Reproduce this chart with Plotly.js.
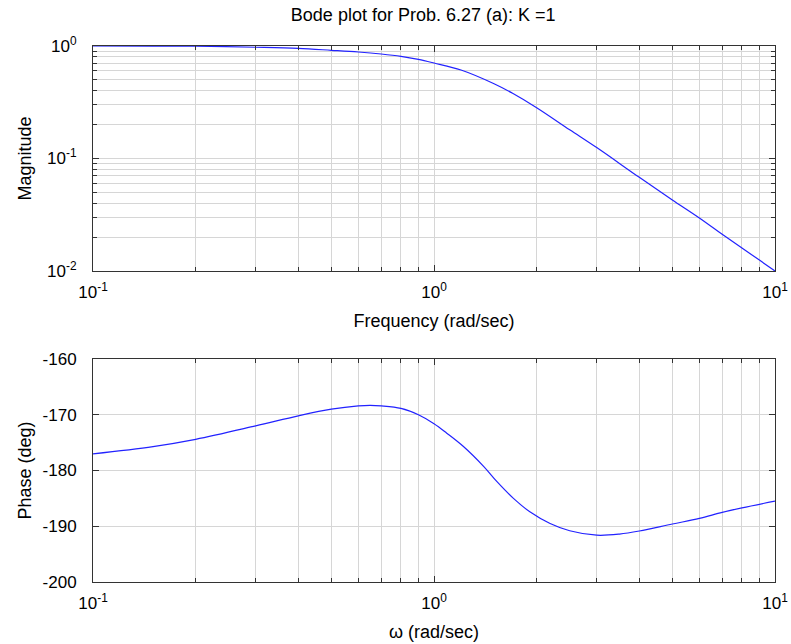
<!DOCTYPE html>
<html>
<head>
<meta charset="utf-8">
<script src="https://cdn.plot.ly/plotly-3.0.1.min.js"></script>
<style>html,body{margin:0;padding:0;background:#fff;}#chart{width:791px;height:644px;}</style>
</head>
<body>
<div id="chart"></div>
<script>
// Frequencies (rad/sec) and values
const freqMag = [0.1, 0.15, 0.2, 0.3, 0.4, 0.5, 0.6, 0.7, 0.8, 0.9, 1.0, 1.2, 1.5, 1.7, 2.0, 2.5, 3.0, 4.0, 5.0, 6.0, 7.0, 8.0, 9.0, 10.0];
const magnitude = [1.0, 0.999, 0.995, 0.975, 0.953, 0.916, 0.884, 0.849, 0.81, 0.761, 0.706, 0.612, 0.462, 0.38, 0.283, 0.18, 0.125, 0.068, 0.0428, 0.0296, 0.0212, 0.016, 0.0125, 0.01];

const freqPhase = [0.1, 0.15, 0.2, 0.3, 0.4, 0.5, 0.6, 0.65, 0.7, 0.8, 0.9, 1.0, 1.09, 1.22, 1.4, 1.53, 1.71, 1.91, 2.19, 2.5, 3.0, 3.5, 4.0, 5.0, 6.0, 7.0, 8.0, 10.0];
const phase = [-177.0, -175.7, -174.4, -172.0, -170.2, -169.0, -168.4, -168.3, -168.4, -168.85, -170.0, -171.6, -173.3, -175.7, -179.3, -182.0, -185.0, -187.4, -189.5, -190.8, -191.6, -191.4, -190.85, -189.6, -188.6, -187.5, -186.7, -185.5];

const xTickVals = [0.1, 1, 10];
const xTickText = ['10<sup>-1</sup>', '10<sup>0</sup>', '10<sup>1</sup>'];
const magTickVals = [0.01, 0.1, 1];
const magTickText = ['10<sup>-2</sup>', '10<sup>-1</sup>', '10<sup>0</sup>'];
const phaseTickVals = [-200, -190, -180, -170, -160];
const phaseTickText = ['-200', '-190', '-180', '-170', '-160'];

const FONT = 'Liberation Sans, Arial, Helvetica, sans-serif';
const gridC = '#d6d6d6';
const lineC = '#333333';

function logX(extra) {
  return Object.assign({
    type: 'log', range: [-1, 1],
    tickvals: xTickVals, ticktext: xTickText,
    ticks: 'inside', ticklen: 6, tickcolor: lineC,
    showline: true, linecolor: lineC, linewidth: 1, mirror: 'ticks',
    showgrid: true, gridcolor: gridC, gridwidth: 1,
    minor: {dtick: 'D1', ticks: 'inside', ticklen: 4, tickcolor: lineC, showgrid: true, gridcolor: gridC, gridwidth: 1},
    zeroline: false,
    tickfont: {family: FONT, size: 17, color: '#000'},
    ticklabelstandoff: 6
  }, extra);
}

const lineStyle = {color: '#2222ff', width: 1.2, shape: 'spline', smoothing: 1};

const traces = [
  {x: freqMag, y: magnitude, type: 'scatter', mode: 'lines', line: lineStyle, xaxis: 'x', yaxis: 'y', hoverinfo: 'skip'},
  {x: freqPhase, y: phase, type: 'scatter', mode: 'lines', line: lineStyle, xaxis: 'x2', yaxis: 'y2', hoverinfo: 'skip'}
];

const layout = {
  width: 791, height: 644,
  paper_bgcolor: '#fff', plot_bgcolor: '#fff',
  showlegend: false,
  margin: {l: 93, r: 16, t: 46, b: 62},
  title: {text: 'Bode plot for Prob. 6.27 (a): K =1', font: {family: FONT, size: 18, color: '#000'}, x: 0.535, xanchor: 'center', y: 0.977, yanchor: 'middle'},
  xaxis: logX({domain: [0, 1], anchor: 'y', title: {text: 'Frequency (rad/sec)', font: {family: FONT, size: 18, color: '#000'}, standoff: 12}}),
  xaxis2: logX({domain: [0, 1], anchor: 'y2', title: {text: 'ω (rad/sec)', font: {family: FONT, size: 18, color: '#000'}, standoff: 12}}),
  yaxis: {
    type: 'log', range: [-2, 0], domain: [0.5802, 1], anchor: 'x',
    tickvals: magTickVals, ticktext: magTickText,
    ticks: 'inside', ticklen: 6, tickcolor: lineC,
    showline: true, linecolor: lineC, linewidth: 1, mirror: 'ticks',
    showgrid: true, gridcolor: gridC,
    minor: {dtick: 'D1', ticks: 'inside', ticklen: 4, tickcolor: lineC, showgrid: true, gridcolor: gridC},
    zeroline: false,
    tickfont: {family: FONT, size: 17, color: '#000'},
    ticklabelstandoff: 12,
    title: {text: 'Magnitude', font: {family: FONT, size: 18, color: '#000'}, standoff: 10}
  },
  yaxis2: {
    range: [-200, -160], domain: [0, 0.416], anchor: 'x2',
    tickvals: phaseTickVals, ticktext: phaseTickText,
    ticks: 'inside', ticklen: 6, tickcolor: lineC,
    showline: true, linecolor: lineC, linewidth: 1, mirror: 'ticks',
    showgrid: true, gridcolor: gridC,
    zeroline: false,
    tickfont: {family: FONT, size: 17, color: '#000'},
    ticklabelstandoff: 12,
    title: {text: 'Phase (deg)', font: {family: FONT, size: 18, color: '#000'}, standoff: 6}
  }
};

Plotly.newPlot('chart', traces, layout, {displayModeBar: false, staticPlot: true});
</script>
</body>
</html>
